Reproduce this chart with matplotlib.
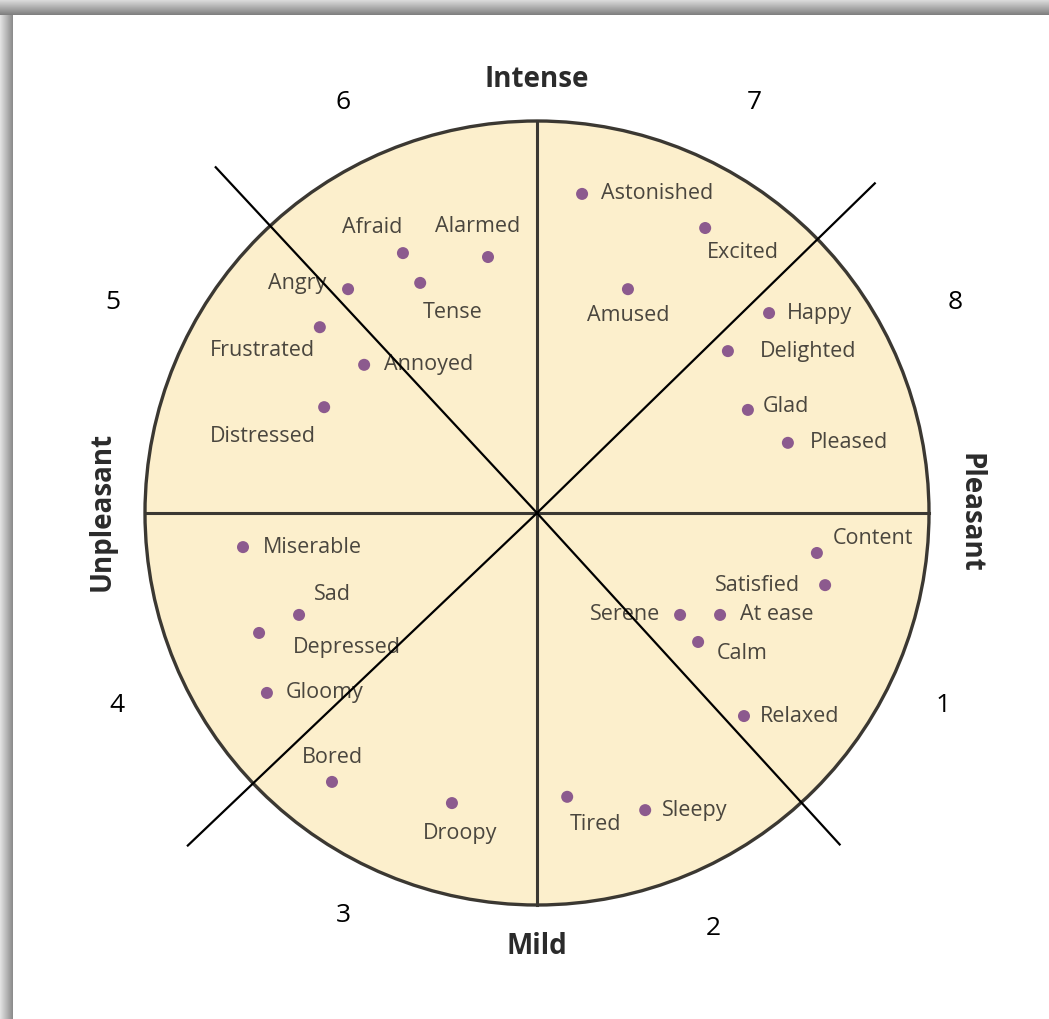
import numpy as np
import matplotlib
matplotlib.use("Agg")
import matplotlib.pyplot as plt
from matplotlib.patches import Circle

# emotion positions: pleasantness (x) and intensity (y), circle radius = 100
words = ["Afraid", "Alarmed", "Angry", "Tense", "Frustrated", "Annoyed", "Distressed",
         "Astonished", "Excited", "Amused", "Happy", "Delighted", "Glad", "Pleased",
         "Miserable", "Sad", "Depressed", "Gloomy", "Bored", "Droopy",
         "Content", "Satisfied", "Serene", "At ease", "Calm", "Relaxed", "Tired", "Sleepy"]
pleasant = [-34.2, -12.5, -48.2, -29.8, -55.4, -44.1, -54.3,
            11.5, 42.9, 23.2, 59.2, 48.7, 53.8, 64.0,
            -75.0, -60.7, -70.9, -68.9, -52.3, -21.7,
            71.4, 73.5, 36.5, 46.7, 41.1, 52.8, 7.7, 27.6]
intensity = [66.3, 65.3, 57.1, 58.7, 47.4, 37.8, 27.0,
             81.4, 72.7, 57.1, 51.0, 41.3, 26.3, 17.9,
             -8.7, -26.0, -30.6, -45.9, -68.6, -74.0,
             -10.2, -18.4, -26.0, -26.0, -32.9, -51.8, -72.4, -75.8]

# label placement (offset in pixels from the dot, alignment)
label_dx = [-31, -10, -22, 32, -57, 20, -61,
            19, 38, 0, 18, 32, 15, 22,
            20, 33, 88, 19, 0, 8,
            56, -25, -20, 20, 44, 16, 28, 17]
label_dy = [26, 31, 6, -30, -23, 0, -29,
            0, -24, -26, 0, 0, 3, 0,
            0, 20, -15, 0, 24, -30,
            14, 0, 0, 0, -12, 0, -28, 0]
label_ha = ["center", "center", "right", "center", "center", "left", "center",
            "left", "center", "center", "left", "left", "left", "left",
            "left", "center", "center", "left", "center", "center",
            "center", "right", "right", "left", "center", "left", "center", "left"]

# sector numbers
sector_nums = ["1", "2", "3", "4", "5", "6", "7", "8"]
sector_x = [103.6, 44.9, -49.5, -107.1, -108.2, -49.5, 55.4, 106.6]
sector_y = [-49.2, -105.9, -102.8, -49.2, 53.8, 104.6, 104.6, 53.8]

# diagonal divider rays from the centre (angle in degrees, length)
diag_angle = [132.9, -47.6, 44.3, 223.6]
diag_len = [120.4, 114.5, 120.4, 123.0]

W, H = 1049, 1019
cx, cy, scale = 537, 513, 3.92

fig = plt.figure(figsize=(W / 100, H / 100), dpi=100)
fig.patch.set_facecolor("white")

# frame shadow strips
top = fig.add_axes([0, 1 - 15 / H, 1, 15 / H])
top.imshow(np.linspace(0.85, 0.5, 15).reshape(-1, 1), cmap="gray", vmin=0, vmax=1,
           aspect="auto", extent=(0, 1, 0, 1))
top.axis("off")
left = fig.add_axes([0, 0, 13 / W, 1 - 15 / H])
left.imshow(np.linspace(0.88, 0.55, 13).reshape(1, -1), cmap="gray", vmin=0, vmax=1,
            aspect="auto", extent=(0, 1, 0, 1))
left.axis("off")

ax = fig.add_axes([0, 0, 1, 1], zorder=2)
ax.set_facecolor("none")
ax.set_xlim(-cx / scale, (W - cx) / scale)
ax.set_ylim(-(H - cy) / scale, cy / scale)
ax.axis("off")

edge = "#3b3832"
ax.add_patch(Circle((0, 0), 100, facecolor="#FCEFCC", edgecolor=edge, lw=2.4, zorder=1))
ax.plot([-100, 100], [0, 0], color=edge, lw=2.2, zorder=2)
ax.plot([0, 0], [-100, 100], color=edge, lw=2.2, zorder=2)

for a, l in zip(diag_angle, diag_len):
    t = np.deg2rad(a)
    ax.plot([0, l * np.cos(t)], [0, l * np.sin(t)], color="black", lw=1.6, zorder=5)

ax.scatter(pleasant, intensity, s=75, color="#8C5A8E", edgecolors="none", zorder=3)
for w, x, y, dx, dy, ha in zip(words, pleasant, intensity, label_dx, label_dy, label_ha):
    ax.annotate(w, (x, y), xytext=(dx, dy), textcoords="offset pixels",
                ha=ha, va="center", fontsize=15.5, color="#4a463e",
                family="Open Sans", zorder=4)

for n, x, y in zip(sector_nums, sector_x, sector_y):
    ax.text(x, y, n, ha="center", va="center", fontsize=19, color="black",
            family="Open Sans")

bold = dict(fontsize=20, fontweight="bold", color="#2b2b2b", family="Open Sans")
ax.text(0, 110.5, "Intense", ha="center", va="center", **bold)
ax.text(0, -110.7, "Mild", ha="center", va="center", **bold)
ax.text(-111, 0.5, "Unpleasant", ha="center", va="center", rotation=90, **bold)
ax.text(110.5, 0, "Pleasant", ha="center", va="center", rotation=-90, **bold)

fig.savefig("out.png", dpi=100)
